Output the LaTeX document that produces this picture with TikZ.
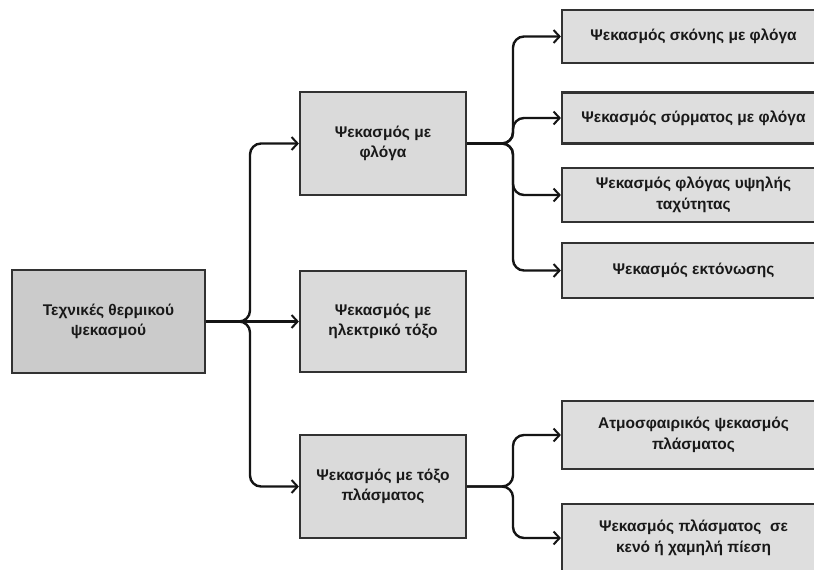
\documentclass[tikz,border=0pt]{standalone}
\usepackage{fontspec}
\setmainfont{Liberation Sans}
\usetikzlibrary{arrows.meta}
\definecolor{rootgray}{RGB}{203,203,203}
\definecolor{boxgray}{RGB}{218,218,218}
\definecolor{rightgray}{RGB}{222,222,222}
\definecolor{bordergray}{RGB}{50,50,50}
\definecolor{linegray}{RGB}{20,20,20}
\definecolor{textgray}{RGB}{25,25,25}
\tikzset{
  box/.style={draw=bordergray, line width=2.2pt, fill=boxgray, align=center, inner sep=0pt,
    text=textgray, font=\fontsize{15.5}{20.5}\selectfont\bfseries},
  conn/.style={line width=2.4pt, draw=linegray, rounded corners=11pt,
    -{Straight Barb[length=6pt,width=13pt,line width=2pt]}}
}
\begin{document}
\begin{tikzpicture}[x=1pt,y=-1pt]
\useasboundingbox (0,0) rectangle (814,570);
\clip (0,0) rectangle (814,570);
\fill[white] (0,0) rectangle (814,570);
% main column
\node[box, fill=rootgray, minimum width=193pt, minimum height=103pt] (root) at (108.5,321.5) {Τεχνικές θερμικού\\ψεκασμού};
\node[box, minimum width=166pt, minimum height=103pt] (flame) at (383,143.5) {Ψεκασμός με\\φλόγα};
\node[box, minimum width=166pt, minimum height=101pt] (elec) at (383,321.5) {Ψεκασμός με\\ηλεκτρικό τόξο};
\node[box, minimum width=166pt, minimum height=103pt] (plasma) at (383,486.5) {Ψεκασμός με τόξο\\πλάσματος};
% right column
\node[box, fill=rightgray, minimum width=263pt, minimum height=53pt] (f1) at (693.5,36.5) {Ψεκασμός σκόνης με φλόγα};
\node[box, fill=rightgray, minimum width=263pt, minimum height=51pt] (f2) at (693.5,118) {Ψεκασμός σύρματος με φλόγα};
\node[box, fill=rightgray, minimum width=263pt, minimum height=54pt] (f3) at (693.5,195) {Ψεκασμός φλόγας υψηλής\\ταχύτητας};
\node[box, fill=rightgray, minimum width=263pt, minimum height=55pt] (f4) at (693.5,270.5) {Ψεκασμός εκτόνωσης};
\node[box, fill=rightgray, minimum width=263pt, minimum height=68pt] (p1) at (693.5,435) {Ατμοσφαιρικός ψεκασμός\\πλάσματος};
\node[box, fill=rightgray, minimum width=263pt, minimum height=68pt] (p2) at (693.5,538) {Ψεκασμός πλάσματος\ \ σε\\κενό ή χαμηλή πίεση};
% branch points
\coordinate (bR) at (250,321.5);
\coordinate (bF) at (513,143.5);
\coordinate (bP) at (513,486.5);
% connectors
\draw[conn] (root.east) -- (bR) |- (flame.west);
\draw[conn] (root.east) -- (elec.west);
\draw[conn] (root.east) -- (bR) |- (plasma.west);
\draw[conn] (flame.east) -- (bF) |- (f1.west);
\draw[conn] (flame.east) -- (bF) |- (f2.west);
\draw[conn] (flame.east) -- (bF) |- (f3.west);
\draw[conn] (flame.east) -- (bF) |- (f4.west);
\draw[conn] (plasma.east) -- (bP) |- (p1.west);
\draw[conn] (plasma.east) -- (bP) |- (p2.west);
\end{tikzpicture}
\end{document}
